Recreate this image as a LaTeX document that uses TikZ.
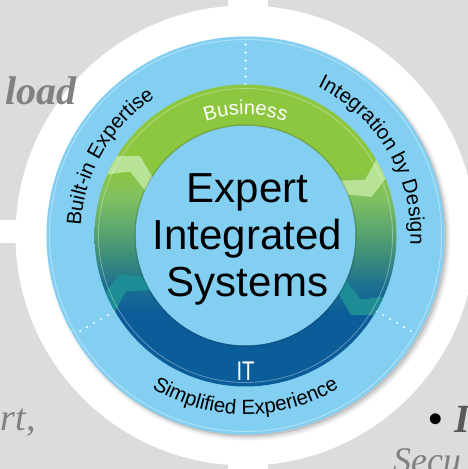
\documentclass[tikz,border=0pt]{standalone}
\usepackage{fontspec}
\setmainfont{Liberation Serif}
\newfontfamily\labelsans{Liberation Sans}
\newfontfamily\narrowsans[FakeStretch=0.75]{Liberation Sans}
\usepackage{xcolor}
\usepackage{tikz}
\usetikzlibrary{decorations.text}
\definecolor{slidegray}{HTML}{DCDCDC}
\definecolor{diskblue}{HTML}{82CFF2}
\definecolor{bizgreen}{HTML}{8DC63F}
\definecolor{ringlight}{HTML}{7EC062}
\definecolor{ringmid}{HTML}{4E9B72}
\definecolor{ringteal}{HTML}{1E7190}
\definecolor{itblue}{HTML}{0B5D9A}
\definecolor{chevgreen}{HTML}{B8E396}
\definecolor{chevteal}{HTML}{1E8C94}
\definecolor{fadedtext}{HTML}{808080}
\definecolor{darktext}{HTML}{595959}

\pgfdeclareverticalshading{ringshade}{100bp}{color(0bp)=(itblue); color(37bp)=(itblue); color(42bp)=(ringteal); color(49bp)=(ringmid); color(56bp)=(ringlight); color(61bp)=(bizgreen); color(100bp)=(bizgreen)}

\newcommand{\outerlabel}{\labelsans\fontsize{20.5}{24}\selectfont}
\newcommand{\ringlabel}{\labelsans\fontsize{20}{24}\selectfont\color{white}}

\begin{document}
\begin{tikzpicture}[x=1pt, y=1pt,
    fragment/.style={inner sep=0pt, text=fadedtext},
    centertext/.style={inner sep=0pt, align=center, font=\labelsans\fontsize{42}{47}\selectfont},
    divider/.style={white!85!diskblue, line width=2.6pt, line cap=round, dash pattern=on 0pt off 8pt},
    arclabel/.style={decorate, decoration={text along path, text align=center, text={#1}}}
]
    \useasboundingbox (-245.5,-233.5) rectangle (222.5,235.5);
    \clip (-245.5,-233.5) rectangle (222.5,235.5);
    \fill[white] (-245.5,-233.5) rectangle (222.5,235.5);

    % slide boxes behind the diagram
    \fill[slidegray] (-245.5,15.5) rectangle (-17.5,235.5);
    \fill[slidegray] (-245.5,-233.5) rectangle (-17.5,-7.5);
    \fill[slidegray] (22.5,-233.5) rectangle (222.5,235.5);

    % white halo
    \fill[white] (0,0) circle (230);

    % slide text fragments
    \node[fragment, anchor=base east, font=\fontsize{40}{44}\selectfont\bfseries\itshape] (load) at (-168.5,130.5) {load};
    \node[fragment, anchor=base east, font=\fontsize{38}{42}\selectfont\itshape] (port) at (-209.5,-194.5) {rt,};
    \node[fragment, anchor=base west, text=darktext, font=\fontsize{40}{44}\selectfont\bfseries\itshape] (item) at (182.5,-196.5) {\textcolor{black}{\textbullet}\hspace{0.3em}I};
    \node[fragment, anchor=base west, font=\fontsize{36}{40}\selectfont\itshape] (secu) at (147.5,-236.5) {Secu};

    % shadow and outer disk
    \fill[black, opacity=.05] (3,-3) circle (202);
    \fill[black, opacity=.08] (3,-3) circle (200);
    \fill[black, opacity=.12] (2,-2) circle (199);
    \fill[diskblue] (0,0) circle (199);
    \draw[white, opacity=.35, line width=1pt] (0,0) circle (196);
    \draw[divider] (90:151) -- (90:197);
    \draw[divider] (210:151) -- (210:197);
    \draw[divider] (330:151) -- (330:197);

    % business / IT ring
    \shade[shading=ringshade] (0,0) circle (151);
    \begin{scope}
        \clip (0,0) circle (151);
        \fill[chevgreen] (157:155) -- (151:132) -- (157:106) -- (149:106) -- (143:132) -- (149:155) -- cycle;
        \fill[chevgreen] (31:155) -- (25:132) -- (31:106) -- (23:106) -- (17:132) -- (23:155) -- cycle;
        \fill[chevteal] (211:155) -- (205:132) -- (211:106) -- (203:106) -- (197:132) -- (203:155) -- cycle;
        \fill[chevteal] (337:155) -- (331:132) -- (337:106) -- (329:106) -- (323:132) -- (329:155) -- cycle;
    \end{scope}
    \draw[white, opacity=.35, line width=.8pt] (0,0) circle (147);
    \fill[diskblue] (0,0) circle (110);
    \draw[black, opacity=.15, line width=1.5pt] (0,0) circle (110.5);

    % labels
    \node[centertext] (core) at (2,-4) {Expert\\Integrated\\Systems};
    \node[inner sep=0pt, text=white, font=\narrowsans\fontsize{27}{30}\selectfont] (it) at (0,-135.5) {IT};
    \path[arclabel={|\ringlabel|Business}] (120:121) arc[start angle=120, end angle=60, radius=121];
    \path[arclabel={|\outerlabel|Built-in Expertise}] (190:165) arc[start angle=190, end angle=110, radius=165];
    \path[arclabel={|\outerlabel|Integration by Design}] (73:165) arc[start angle=73, end angle=-12, radius=165];
    \path[arclabel={|\outerlabel|Simplified Experience}] (215:179) arc[start angle=215, end angle=325, radius=179];
\end{tikzpicture}
\end{document}
